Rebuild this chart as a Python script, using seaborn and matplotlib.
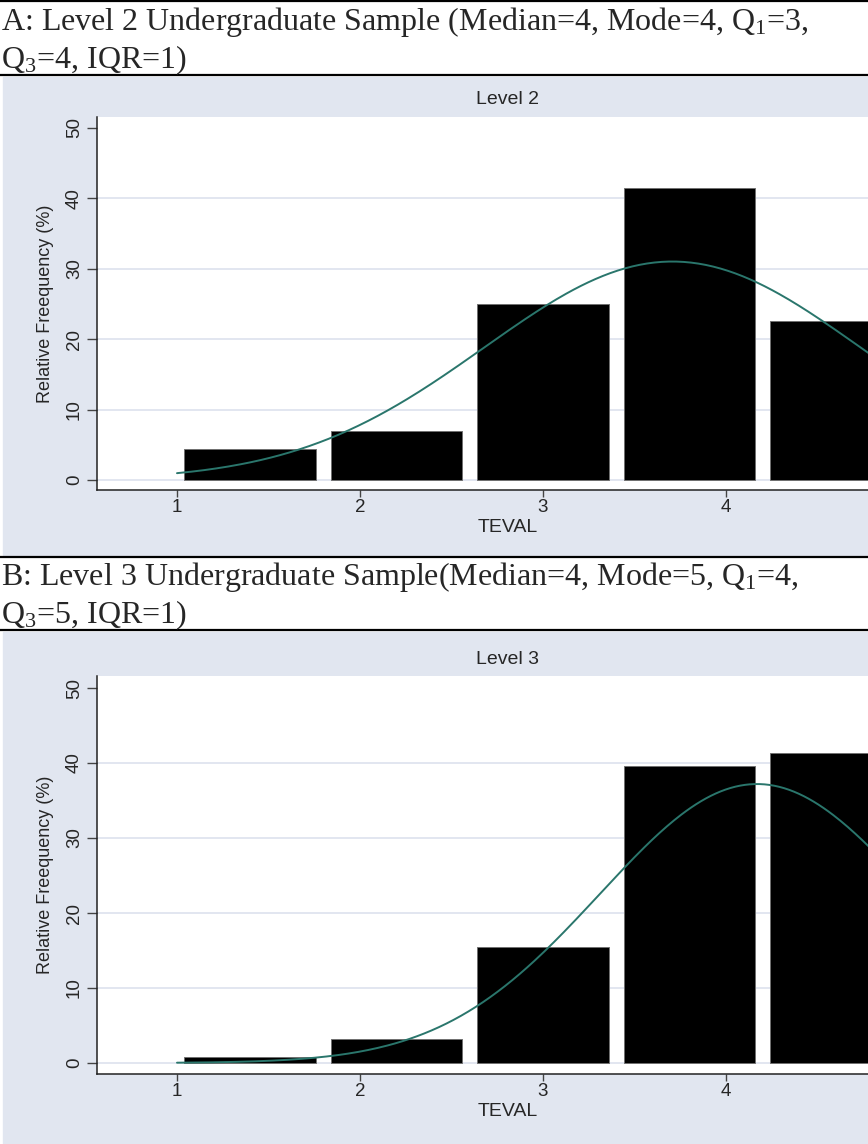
import numpy as np
import matplotlib
matplotlib.use("Agg")
import matplotlib.pyplot as plt
import seaborn as sns
from matplotlib.lines import Line2D
from matplotlib.patches import Rectangle

# Datos (porcentaje por barra)
teval = [1, 2, 3, 4, 5]
pct_nivel2 = [4.4, 6.9, 25.0, 41.5, 22.6]
pct_nivel3 = [0.8, 3.2, 15.5, 39.6, 41.3]
bordes = [1.0, 1.8, 2.6, 3.4, 4.2, 5.0]
ticks_x = [1, 2, 3, 4]
ticks_y = [0, 10, 20, 30, 40, 50]

encabezado_a = ["A: Level 2 Undergraduate Sample (Median=4, Mode=4, Q$_1$=3,",
                "Q$_3$=4, IQR=1)"]
encabezado_b = ["B: Level 3 Undergraduate Sample(Median=4, Mode=5, Q$_1$=4,",
                "Q$_3$=5, IQR=1)"]

sns.set_style("ticks")
plt.rcParams['font.family'] = ['Liberation Sans', 'DejaVu Sans']
plt.rcParams['mathtext.fontset'] = 'custom'
plt.rcParams['mathtext.rm'] = 'Liberation Serif'
plt.rcParams['mathtext.it'] = 'Liberation Serif'

W, H = 868, 1144
FONDO = '#E1E6F0'
REJILLA = '#DFE4EF'
CURVA = '#2A766C'

fig = plt.figure(figsize=(W / 100, H / 100), dpi=100)


def fx(x):
    return x / W


def fy(y):
    return 1 - y / H


def linea_negra(y):
    fig.add_artist(Line2D([0, 1], [fy(y), fy(y)], color='black', lw=1.6,
                          transform=fig.transFigure))


def encabezado(lineas, y_base):
    for i, txt in enumerate(lineas):
        fig.text(fx(1), fy(y_base + i * 38), txt, family='Liberation Serif',
                 fontsize=23, va='baseline', ha='left')


def panel(arriba, abajo, cero, px10, pct, titulo, fondo_top, fondo_bottom):
    fig.add_artist(Rectangle((fx(3), fy(fondo_bottom)), 1, (fondo_bottom - fondo_top) / H,
                             transform=fig.transFigure, color=FONDO, zorder=0))
    ax = fig.add_axes([fx(97), fy(abajo), 1 - fx(97), (abajo - arriba) / H])
    ax.set_facecolor('white')

    for v in ticks_y[:-1]:
        ax.axhline(v, color=REJILLA, lw=1.3, zorder=0)

    sns.histplot(x=teval, weights=pct, bins=bordes, shrink=0.9, color='black',
                 edgecolor='#707070', linewidth=0.7, alpha=1, ax=ax, zorder=2)

    # curva normal con media y desviación de los mismos datos
    x = np.array(teval, dtype=float)
    p = np.array(pct) / np.sum(pct)
    media = np.sum(x * p)
    sd = np.sqrt(np.sum(p * (x - media) ** 2))
    xs = np.linspace(1, 5, 300)
    ys = 100 * 0.8 * np.exp(-0.5 * ((xs - media) / sd) ** 2) / (sd * np.sqrt(2 * np.pi))
    sns.lineplot(x=xs, y=ys, color=CURVA, lw=1.4, ax=ax, zorder=3)

    k = px10 / 10
    ax.set_xlim(1 - 80 / 183, 1 + (W - 177) / 183)
    ax.set_ylim(-(abajo - cero) / k, (cero - arriba) / k)
    ax.set_xticks(ticks_x)
    ax.set_yticks(ticks_y)
    ax.tick_params(axis='x', length=5, width=1, color='#444', labelsize=13.5, pad=1.5)
    ax.tick_params(axis='y', length=7.5, width=1, color='#444', labelsize=13.5, pad=2.5,
                   labelrotation=90)
    for lab in ax.get_yticklabels():
        lab.set_va('center')
    for s in ['top', 'right']:
        ax.spines[s].set_visible(False)
    for s in ['left', 'bottom']:
        ax.spines[s].set_color('#222')
        ax.spines[s].set_linewidth(1.1)
    ax.set_xlabel('')
    ax.set_ylabel('Relative Freequency (%)', fontsize=13, va='center')
    ax.yaxis.set_label_coords((46 - 97) / (W - 97), 0.5)

    fig.text(fx(508), fy(arriba - 17), titulo, fontsize=14, ha='center', va='center')
    fig.text(fx(508), fy(abajo + 37.5), 'TEVAL', fontsize=14, ha='center', va='center')
    return ax


linea_negra(1)
encabezado(encabezado_a, 30)
linea_negra(75)
panel(117, 490, 480, 70.4, pct_nivel2, 'Level 2', 77, 555)
linea_negra(557)
encabezado(encabezado_b, 585)
linea_negra(630)
panel(676, 1074, 1063, 75, pct_nivel3, 'Level 3', 632, 1144)

fig.savefig('out.png', dpi=100)
